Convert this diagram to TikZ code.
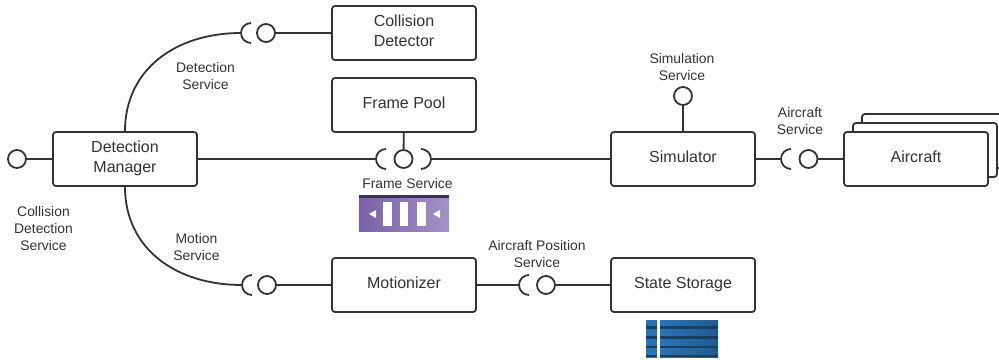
\documentclass[tikz,border=0pt]{standalone}
\usepackage{fontspec}
\setmainfont{Liberation Sans}
\usetikzlibrary{calc}
\definecolor{linegray}{HTML}{333333}
\definecolor{frameL}{HTML}{7A60A8}
\definecolor{frameR}{HTML}{A292C6}
\definecolor{frameT}{HTML}{3B3058}
\definecolor{storeL}{HTML}{2A74B8}
\definecolor{storeR}{HTML}{205A8E}
\definecolor{storeD}{HTML}{173F60}
\tikzset{
  comp/.style={draw=linegray,line width=1.8pt,rounded corners=3pt,fill=white,minimum width=144pt,minimum height=54pt,inner sep=0pt,align=center,text=linegray,text height=11.5pt,text depth=5pt,font=\fontsize{16}{20}\selectfont},
  twolines/.style={text height=31.5pt,text depth=4pt},
  ball/.style={circle,draw=linegray,line width=1.8pt,minimum size=18pt,inner sep=0pt},
  wire/.style={draw=linegray,line width=1.8pt},
  lbl/.style={align=center,text=linegray,inner sep=0pt,font=\fontsize{13.9}{17}\selectfont}
}
\begin{document}
\begin{tikzpicture}[x=1pt,y=-1pt]
  \useasboundingbox (0,0) rectangle (999,359);
  % stacked aircraft boxes
  \node[comp] (aircraftC) at (934,141) {};
  \node[comp] (aircraftB) at (925,150) {};
  % components
  \node[comp,twolines] (detector) at (404,33) {Collision\\Detector};
  \node[comp] (pool) at (404,105) {Frame Pool};
  \node[comp,twolines] (manager) at (125,159) {Detection\\Manager};
  \node[comp] (simulator) at (683,159) {Simulator};
  \node[comp] (aircraft) at (916,159) {Aircraft};
  \node[comp] (motionizer) at (404,285) {Motionizer};
  \node[comp] (storage) at (683,285) {State Storage};
  % lollipops
  \node[ball] (ballManager) at (17,159) {};
  \node[ball] (ballDetector) at (266,33) {};
  \node[ball] (ballPool) at (403.5,159) {};
  \node[ball] (ballSimulator) at (683,96) {};
  \node[ball] (ballAircraft) at (808.5,159) {};
  \node[ball] (ballMotionizer) at (267,285) {};
  \node[ball] (ballStorage) at (546,285) {};
  % socket ends
  \coordinate (sockDetect) at (241,33);
  \coordinate (sockMotion) at (242,285);
  \coordinate (sockFrameL) at (376,159);
  \coordinate (sockFrameR) at (431,159);
  \coordinate (sockAircraft) at (781,159);
  \coordinate (sockPosition) at (519,285);
  % sockets
  \draw[wire] (251,23) arc (90:270:10pt);
  \draw[wire] (252,275) arc (90:270:10pt);
  \draw[wire] (386,149) arc (90:270:10pt);
  \draw[wire] (421,149) arc (90:-90:10pt);
  \draw[wire] (791,149) arc (90:270:10pt);
  \draw[wire] (529,275) arc (90:270:10pt);
  % connectors
  \draw[wire] (ballManager) -- (manager);
  \draw[wire] (ballDetector) -- (detector);
  \draw[wire] (pool) -- (ballPool);
  \draw[wire] (manager) -- (sockFrameL);
  \draw[wire] (sockFrameR) -- (simulator);
  \draw[wire] (simulator) -- (ballSimulator);
  \draw[wire] (simulator) -- (sockAircraft);
  \draw[wire] (ballAircraft) -- (aircraft);
  \draw[wire] (ballMotionizer) -- (motionizer);
  \draw[wire] (motionizer) -- (sockPosition);
  \draw[wire] (ballStorage) -- (storage);
  \draw[wire] (manager.north) .. controls (125,70) and (175,33) .. (sockDetect);
  \draw[wire] (manager.south) .. controls (125,248) and (175,285) .. (sockMotion);
  % labels
  \node[lbl] (lblDetect) at (205.5,76) {Detection\\Service};
  \node[lbl] (lblSimulation) at (682,67) {Simulation\\Service};
  \node[lbl] (lblAircraft) at (800,121) {Aircraft\\Service};
  \node[lbl] (lblFrame) at (407.5,183.5) {Frame Service};
  \node[lbl] (lblCollision) at (43.5,229) {Collision\\Detection\\Service};
  \node[lbl] (lblMotion) at (196.5,247) {Motion\\Service};
  \node[lbl] (lblPosition) at (537,254) {Aircraft Position\\Service};
  % frame icon
  \shade[left color=frameL,right color=frameR] (359,195) rectangle (449,231);
  \fill[frameT] (359,195) rectangle (449,198);
  \fill[white] (383,202) rectangle (392,226);
  \fill[white] (400,202) rectangle (408,226);
  \fill[white] (417,202) rectangle (426,226);
  \fill[white] (369,214) -- (376,210) -- (376,218) -- cycle;
  \fill[white] (433,214) -- (440,210) -- (440,218) -- cycle;
  % storage icon
  \shade[left color=storeL,right color=storeL!85!storeR] (646,320) rectangle (657,357);
  \shade[left color=storeL,right color=storeR] (660,320) rectangle (718,357);
  \foreach \ya/\yb in {326/329,336/339,346/348,355/357} {
    \fill[storeD] (646,\ya) rectangle (657,\yb);
    \fill[storeD] (660,\ya) rectangle (718,\yb);
  }
\end{tikzpicture}
\end{document}
